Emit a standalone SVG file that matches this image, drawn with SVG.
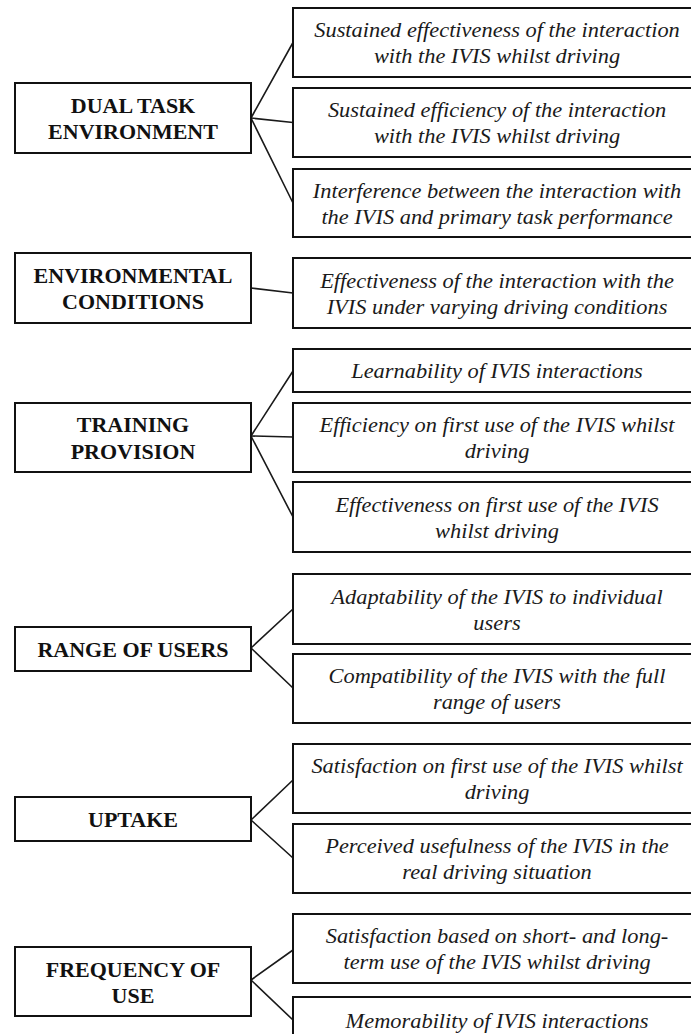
<svg xmlns="http://www.w3.org/2000/svg" width="691" height="1034" viewBox="0 0 691 1034">
  <style>
    .box { fill: #ffffff; stroke: #111111; stroke-width: 2; }
    .link { stroke: #1a1a1a; stroke-width: 1.6; fill: none; stroke-linecap: round; }
    .cat { font-family: "Liberation Serif", "Times New Roman", serif; font-weight: bold; font-size: 20px; fill: #111111; text-anchor: middle; }
    .crit { font-family: "Liberation Serif", "Times New Roman", serif; font-style: italic; font-size: 20px; fill: #1a1a1a; text-anchor: middle; }
  </style>
  <rect width="691" height="1034" fill="#ffffff"/>

  <!-- connectors from each category to its criteria -->
  <g id="connectors">
    <line class="link" x1="251" y1="118" x2="293" y2="42.5"/>
    <line class="link" x1="251" y1="118" x2="293" y2="122.5"/>
    <line class="link" x1="251" y1="118" x2="293" y2="203"/>
    <line class="link" x1="251" y1="288" x2="293" y2="293"/>
    <line class="link" x1="251" y1="436" x2="293" y2="371"/>
    <line class="link" x1="251" y1="436" x2="293" y2="437"/>
    <line class="link" x1="251" y1="436" x2="293" y2="517"/>
    <line class="link" x1="251" y1="648" x2="293" y2="609"/>
    <line class="link" x1="251" y1="648" x2="293" y2="688"/>
    <line class="link" x1="251" y1="820" x2="293" y2="780"/>
    <line class="link" x1="251" y1="820" x2="293" y2="858"/>
    <line class="link" x1="251" y1="980" x2="293" y2="950"/>
    <line class="link" x1="251" y1="980" x2="293" y2="1020"/>
  </g>

  <!-- categories (left column) -->
  <g id="cat-dual-task">
    <rect class="box" x="15" y="83" width="236" height="70"/>
    <text class="cat" transform="translate(133,113) scale(1.1,1)">DUAL TASK</text>
    <text class="cat" transform="translate(133,139) scale(1.1,1)">ENVIRONMENT</text>
  </g>
  <g id="cat-environmental">
    <rect class="box" x="15" y="253" width="236" height="70"/>
    <text class="cat" transform="translate(133,283) scale(1.1,1)">ENVIRONMENTAL</text>
    <text class="cat" transform="translate(133,309) scale(1.1,1)">CONDITIONS</text>
  </g>
  <g id="cat-training">
    <rect class="box" x="15" y="403" width="236" height="69"/>
    <text class="cat" transform="translate(133,432) scale(1.1,1)">TRAINING</text>
    <text class="cat" transform="translate(133,458.5) scale(1.1,1)">PROVISION</text>
  </g>
  <g id="cat-range">
    <rect class="box" x="15" y="627" width="236" height="44"/>
    <text class="cat" transform="translate(133,656.5) scale(1.1,1)">RANGE OF USERS</text>
  </g>
  <g id="cat-uptake">
    <rect class="box" x="15" y="797" width="236" height="44"/>
    <text class="cat" transform="translate(133,826.5) scale(1.1,1)">UPTAKE</text>
  </g>
  <g id="cat-frequency">
    <rect class="box" x="15" y="947" width="236" height="69"/>
    <text class="cat" transform="translate(133,976.5) scale(1.1,1)">FREQUENCY OF</text>
    <text class="cat" transform="translate(133,1002.5) scale(1.1,1)">USE</text>
  </g>

  <!-- criteria (right column) -->
  <g id="crit-1">
    <rect class="box" x="293" y="8" width="407" height="69"/>
    <text class="crit" transform="translate(497,37) scale(1.12,1)">Sustained effectiveness of the interaction</text>
    <text class="crit" transform="translate(497,63) scale(1.12,1)">with the IVIS whilst driving</text>
  </g>
  <g id="crit-2">
    <rect class="box" x="293" y="88" width="407" height="69"/>
    <text class="crit" transform="translate(497,117) scale(1.12,1)">Sustained efficiency of the interaction</text>
    <text class="crit" transform="translate(497,143) scale(1.12,1)">with the IVIS whilst driving</text>
  </g>
  <g id="crit-3">
    <rect class="box" x="293" y="169" width="407" height="68"/>
    <text class="crit" transform="translate(497,197.5) scale(1.12,1)">Interference between the interaction with</text>
    <text class="crit" transform="translate(497,223.5) scale(1.12,1)">the IVIS and primary task performance</text>
  </g>
  <g id="crit-4">
    <rect class="box" x="293" y="258" width="407" height="70"/>
    <text class="crit" transform="translate(497,287.5) scale(1.12,1)">Effectiveness of the interaction with the</text>
    <text class="crit" transform="translate(497,313.5) scale(1.12,1)">IVIS under varying driving conditions</text>
  </g>
  <g id="crit-5">
    <rect class="box" x="293" y="349" width="407" height="43"/>
    <text class="crit" transform="translate(497,378) scale(1.12,1)">Learnability of IVIS interactions</text>
  </g>
  <g id="crit-6">
    <rect class="box" x="293" y="403" width="407" height="69"/>
    <text class="crit" transform="translate(497,432) scale(1.12,1)">Efficiency on first use of the IVIS whilst</text>
    <text class="crit" transform="translate(497,458) scale(1.12,1)">driving</text>
  </g>
  <g id="crit-7">
    <rect class="box" x="293" y="482" width="407" height="70"/>
    <text class="crit" transform="translate(497,511.5) scale(1.12,1)">Effectiveness on first use of the IVIS</text>
    <text class="crit" transform="translate(497,537.5) scale(1.12,1)">whilst driving</text>
  </g>
  <g id="crit-8">
    <rect class="box" x="293" y="574" width="407" height="70"/>
    <text class="crit" transform="translate(497,603.5) scale(1.12,1)">Adaptability of the IVIS to individual</text>
    <text class="crit" transform="translate(497,629.5) scale(1.12,1)">users</text>
  </g>
  <g id="crit-9">
    <rect class="box" x="293" y="654" width="407" height="69"/>
    <text class="crit" transform="translate(497,683) scale(1.12,1)">Compatibility of the IVIS with the full</text>
    <text class="crit" transform="translate(497,709) scale(1.12,1)">range of users</text>
  </g>
  <g id="crit-10">
    <rect class="box" x="293" y="744" width="407" height="69"/>
    <text class="crit" transform="translate(497,773) scale(1.12,1)">Satisfaction on first use of the IVIS whilst</text>
    <text class="crit" transform="translate(497,799) scale(1.12,1)">driving</text>
  </g>
  <g id="crit-11">
    <rect class="box" x="293" y="824" width="407" height="69"/>
    <text class="crit" transform="translate(497,853) scale(1.12,1)">Perceived usefulness of the IVIS in the</text>
    <text class="crit" transform="translate(497,879) scale(1.12,1)">real driving situation</text>
  </g>
  <g id="crit-12">
    <rect class="box" x="293" y="914" width="407" height="69"/>
    <text class="crit" transform="translate(497,943) scale(1.12,1)">Satisfaction based on short- and long-</text>
    <text class="crit" transform="translate(497,969) scale(1.12,1)">term use of the IVIS whilst driving</text>
  </g>
  <g id="crit-13">
    <rect class="box" x="293" y="997" width="407" height="50"/>
    <text class="crit" transform="translate(497,1028) scale(1.12,1)">Memorability of IVIS interactions</text>
  </g>
</svg>
